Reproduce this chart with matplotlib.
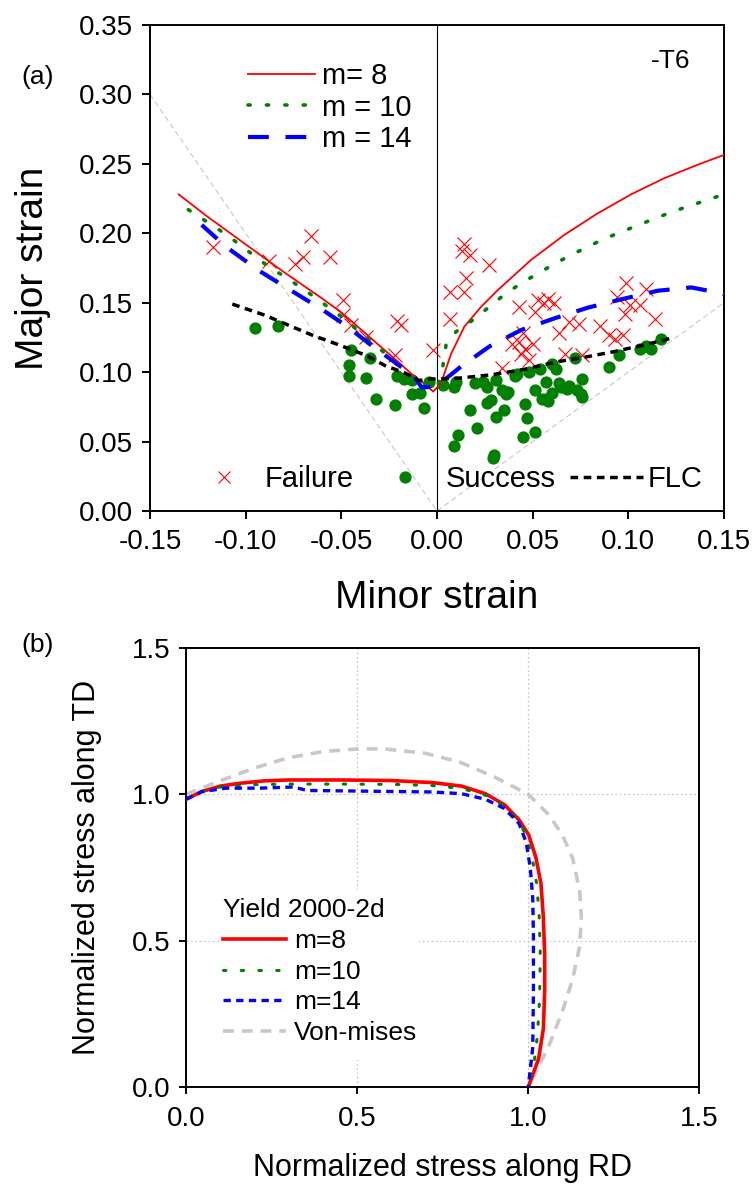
import matplotlib
matplotlib.use("Agg")
import matplotlib.pyplot as plt
from matplotlib.lines import Line2D
from matplotlib.patches import Rectangle

plt.rcParams['font.family'] = ['Liberation Sans', 'DejaVu Sans']

# ---- panel (a): forming limit data ----
m8_x = [-0.135, -0.12, -0.10, -0.08, -0.06, -0.05, -0.04, -0.03, -0.02, -0.012, -0.006, -0.002,
        0.0021, 0.0073, 0.0143, 0.023, 0.0317, 0.0491, 0.0665, 0.084, 0.1014, 0.1188,
        0.1363, 0.1484, 0.15]
m8_y = [0.228, 0.212, 0.192, 0.172, 0.153, 0.143, 0.131, 0.119, 0.107, 0.097, 0.091, 0.086,
        0.092, 0.113, 0.1328, 0.147, 0.159, 0.1808, 0.1988, 0.2144, 0.228, 0.2397,
        0.2494, 0.2556, 0.2565]

m10_x = [-0.13, -0.11, -0.09, -0.07, -0.05, -0.03, -0.015, -0.005, 0.0,
         0.003, 0.0047, 0.0099, 0.0187, 0.0273, 0.036, 0.0448, 0.0544, 0.064, 0.0735,
         0.0831, 0.0935, 0.104, 0.1145, 0.124, 0.1345, 0.1449, 0.15]
m10_y = [0.217, 0.199, 0.178, 0.160, 0.140, 0.117, 0.098, 0.090, 0.088,
         0.104, 0.1196, 0.1291, 0.1375, 0.147, 0.1567, 0.1647, 0.1724, 0.180, 0.1867,
         0.1932, 0.1995, 0.2052, 0.211, 0.216, 0.2209, 0.2257, 0.228]

m14_x = [-0.123, -0.11, -0.093, -0.073, -0.06, -0.047, -0.035, -0.027, -0.018, -0.012, -0.008,
         -0.0005, 0.0125, 0.0273, 0.0439, 0.0613, 0.0788, 0.0962, 0.1153, 0.1328, 0.1476, 0.15]
m14_y = [0.206, 0.190, 0.173, 0.156, 0.145, 0.133, 0.120, 0.112, 0.103, 0.097, 0.089,
         0.0895, 0.104, 0.1184, 0.1303, 0.1387, 0.1464, 0.1524, 0.1586, 0.161, 0.1571, 0.156]

flc_x = [-0.107, -0.09, -0.078, -0.065, -0.052, -0.037, -0.027, -0.017, -0.0096, -0.0026,
         0.0108, 0.0282, 0.0456, 0.063, 0.077, 0.0927, 0.1084, 0.1223]
flc_y = [0.149, 0.141, 0.134, 0.1265, 0.120, 0.112, 0.1046, 0.0995, 0.094, 0.095,
         0.0956, 0.098, 0.102, 0.1075, 0.1107, 0.1148, 0.1196, 0.1244]

fail_x = [-0.117, -0.088, -0.074, -0.070, -0.066, -0.056, -0.049, -0.049, -0.045, -0.037,
          -0.021, -0.019, -0.022, -0.002,
          0.014, 0.013, 0.017, 0.027, 0.015, 0.007, 0.014, 0.007, 0.034,
          0.043, 0.051, 0.053, 0.056, 0.058, 0.061, 0.064, 0.067, 0.069, 0.074, 0.076,
          0.085, 0.090, 0.093, 0.094, 0.099, 0.098, 0.101, 0.106, 0.109, 0.114, 0.097,
          0.039, 0.043, 0.046, 0.050, 0.044, 0.048, 0.045]
fail_y = [0.190, 0.180, 0.178, 0.183, 0.198, 0.183, 0.152, 0.141, 0.134, 0.125,
          0.137, 0.134, 0.112, 0.116,
          0.192, 0.187, 0.184, 0.177, 0.168, 0.158, 0.158, 0.138, 0.103,
          0.147, 0.143, 0.152, 0.150, 0.153, 0.150, 0.128, 0.113, 0.136, 0.135, 0.112,
          0.133, 0.127, 0.124, 0.154, 0.164, 0.142, 0.148, 0.148, 0.160, 0.138, 0.127,
          0.120, 0.122, 0.117, 0.120, 0.113, 0.109, 0.128]

succ_x = [-0.095, -0.083, -0.045, -0.046, -0.046, -0.037, -0.035, -0.032, -0.022, -0.021,
          -0.017, -0.013, -0.013, -0.009, -0.007, -0.004, 0.003, 0.009,
          0.017, 0.021, 0.011, 0.009, 0.030, 0.029, 0.026, 0.028, 0.035, 0.031, 0.034, 0.037,
          0.046, 0.047, 0.045, 0.051, 0.051, 0.055, 0.058, 0.057, 0.064, 0.069, 0.073, 0.075,
          0.076, 0.072, 0.060, 0.054, 0.048, 0.042, 0.024, 0.031, 0.010, 0.090, 0.095, 0.106,
          0.109, 0.117, 0.076, 0.062, 0.020, 0.026, 0.036, 0.041, 0.065, 0.068, 0.060, 0.057,
          0.112]
succ_y = [0.132, 0.133, 0.116, 0.105, 0.097, 0.096, 0.110, 0.081, 0.076, 0.097,
          0.095, 0.094, 0.084, 0.085, 0.074, 0.093, 0.091, 0.089,
          0.073, 0.060, 0.055, 0.047, 0.040, 0.038, 0.078, 0.080, 0.073, 0.068, 0.087, 0.086,
          0.077, 0.067, 0.053, 0.057, 0.087, 0.081, 0.079, 0.093, 0.092, 0.090, 0.087, 0.084,
          0.082, 0.110, 0.106, 0.102, 0.100, 0.099, 0.093, 0.094, 0.093, 0.104, 0.112, 0.117,
          0.119, 0.124, 0.095, 0.102, 0.092, 0.089, 0.084, 0.097, 0.089, 0.088, 0.085, 0.081,
          0.117]

# ---- panel (b): yield loci ----
vm_x = [0.0, 0.1, 0.2, 0.3, 0.4, 0.5, 0.58, 0.7, 0.8, 0.9, 1.0, 1.06, 1.1, 1.13, 1.15,
        1.155, 1.15, 1.13, 1.1, 1.06, 1.0]
vm_y = [1.0, 1.046, 1.09, 1.125, 1.146, 1.155, 1.155, 1.14, 1.11, 1.06, 1.0, 0.93, 0.86,
        0.78, 0.67, 0.58, 0.48, 0.37, 0.26, 0.14, 0.0]

y8_x = [0.0, 0.046, 0.1, 0.16, 0.23, 0.3, 0.45, 0.6, 0.72, 0.805, 0.875, 0.931, 0.973,
        1.001, 1.022, 1.037, 1.044, 1.048, 1.048, 1.044, 1.03, 1.0]
y8_y = [0.983, 1.009, 1.028, 1.038, 1.046, 1.049, 1.049, 1.047, 1.04, 1.028, 1.002, 0.964,
        0.913, 0.862, 0.785, 0.696, 0.581, 0.45, 0.33, 0.198, 0.096, 0.0]

y10_x = [0.0, 0.046, 0.1, 0.2, 0.3, 0.45, 0.6, 0.72, 0.805, 0.875, 0.931, 0.973, 0.995,
         1.012, 1.025, 1.032, 1.035, 1.033, 1.027, 1.018, 1.0]
y10_y = [0.985, 1.01, 1.025, 1.033, 1.035, 1.035, 1.034, 1.03, 1.02, 0.997, 0.96, 0.908,
         0.855, 0.78, 0.69, 0.58, 0.45, 0.3, 0.18, 0.09, 0.0]

y14_x = [0.0, 0.046, 0.117, 0.215, 0.313, 0.355, 0.44, 0.58, 0.72, 0.805, 0.875, 0.931,
         0.973, 0.994, 1.006, 1.013, 1.015, 1.015, 1.013, 1.0]
y14_y = [0.983, 1.009, 1.021, 1.021, 1.025, 1.013, 1.012, 1.01, 1.008, 1.002, 0.983, 0.951,
         0.9, 0.836, 0.747, 0.645, 0.517, 0.326, 0.134, 0.0]

fig = plt.figure(figsize=(7.52, 11.85), dpi=100)

# ================= panel (a) =================
ax1 = fig.add_axes([0.1995, 0.5688, 0.7633, 0.4101])
ax1.plot([-0.15, 0.0], [0.30, 0.0], color='#c8c8c8', lw=0.8, ls=(0, (5, 3)), zorder=1)
ax1.plot([0.0, 0.15], [0.0, 0.15], color='#c8c8c8', lw=0.8, ls=(0, (5, 3)), zorder=1)
ax1.axvline(0, color='black', lw=0.8, zorder=1)

ax1.plot(fail_x, fail_y, ls='none', marker='x', ms=10, mew=0.8, color='red', zorder=2)
ax1.plot(succ_x, succ_y, ls='none', marker='o', ms=7.8, color='green', mec='green', zorder=3)

l8, = ax1.plot(m8_x, m8_y, color='red', lw=1.3, zorder=4, label='m= 8')
l10, = ax1.plot(m10_x, m10_y, color='green', lw=2.6, ls=(0, (0.6, 4.5)),
                dash_capstyle='round', zorder=5, label='m = 10')
l14, = ax1.plot(m14_x, m14_y, color='blue', lw=3, ls=(0, (5, 4)), zorder=6, label='m = 14')
lflc, = ax1.plot(flc_x, flc_y, color='black', lw=2.5, ls=(0, (2.2, 1.6)), zorder=7)

ax1.set_xlim(-0.15, 0.15)
ax1.set_ylim(0, 0.35)
ax1.set_xticks([-0.15, -0.10, -0.05, 0.00, 0.05, 0.10, 0.15])
ax1.set_yticks([0.00, 0.05, 0.10, 0.15, 0.20, 0.25, 0.30, 0.35])
ax1.xaxis.set_major_formatter(matplotlib.ticker.FormatStrFormatter('%.2f'))
ax1.yaxis.set_major_formatter(matplotlib.ticker.FormatStrFormatter('%.2f'))
ax1.tick_params(axis='both', direction='out', length=6, width=1.4, labelsize=20)
ax1.tick_params(axis='x', pad=7)
ax1.tick_params(axis='y', pad=6)
for s in ax1.spines.values():
    s.set_linewidth(1.4)
ax1.set_xlabel('Minor strain', fontsize=28, labelpad=18)
ax1.set_ylabel('Major strain', fontsize=28, labelpad=20)

leg1 = ax1.legend(handles=[l8, l10, l14], loc='center left', bbox_to_anchor=(0.17, 0.83),
                  frameon=False, fontsize=21, handlelength=2.3, handletextpad=0.25,
                  labelspacing=0.12, borderpad=0, borderaxespad=0)
ax1.add_artist(leg1)

h_fail = Line2D([], [], ls='none', marker='x', ms=9, mew=0.8, color='red')
h_succ = Line2D([], [], ls='none', marker='o', ms=7.8, color='green')
h_flc = Line2D([], [], color='black', lw=2.5, ls=(0, (2.2, 1.6)))
ax1.legend(handles=[h_fail, h_succ, h_flc], labels=['Failure', 'Success', 'FLC'],
           loc='center left', bbox_to_anchor=(0.065, 0.066), ncol=3, frameon=False,
           fontsize=21, handlelength=2.5, handletextpad=0.15, columnspacing=0.5,
           borderpad=0, borderaxespad=0)

ax1.text(0.122, 0.324, '-T6', fontsize=19, ha='center', va='center')
fig.text(0.05, 0.935, '(a)', fontsize=19, ha='center', va='center')

# ================= panel (b) =================
ax2 = fig.add_axes([0.2473, 0.0827, 0.6828, 0.3705])
ax2.plot(vm_x, vm_y, color='#c8c8c8', lw=2.6, ls=(0, (3, 2.2)), label='Von-mises', zorder=2)
ax2.plot(y8_x, y8_y, color='red', lw=2.6, label='m=8', zorder=3)
ax2.plot(y10_x, y10_y, color='green', lw=2.2, ls=(0, (0.8, 5)), dash_capstyle='round',
         label='m=10', zorder=4)
ax2.plot(y14_x, y14_y, color='blue', lw=2.4, ls=(0, (2.2, 1.6)), label='m=14', zorder=5)

ax2.set_xlim(0, 1.5)
ax2.set_ylim(0, 1.5)
ax2.set_xticks([0.0, 0.5, 1.0, 1.5])
ax2.set_yticks([0.0, 0.5, 1.0, 1.5])
ax2.xaxis.set_major_formatter(matplotlib.ticker.FormatStrFormatter('%.1f'))
ax2.yaxis.set_major_formatter(matplotlib.ticker.FormatStrFormatter('%.1f'))
for v in [0.5, 1.0]:
    ax2.axvline(v, color='#c8c8c8', lw=0.9, ls=(0, (1.5, 2)), zorder=0)
    ax2.axhline(v, color='#c8c8c8', lw=0.9, ls=(0, (1.5, 2)), zorder=0)
ax2.tick_params(axis='both', direction='out', length=5, width=1.4, labelsize=20)
ax2.tick_params(axis='x', pad=9)
ax2.tick_params(axis='y', pad=6)
for s in ax2.spines.values():
    s.set_linewidth(1.4)
ax2.set_xlabel('Normalized stress along RD', fontsize=22, labelpad=15)
ax2.set_ylabel('Normalized stress along TD', fontsize=22, labelpad=22)

# white box behind the legend (hides the grid there)
ax2.add_patch(Rectangle((0.096, 0.092), 0.584, 0.581, transform=ax2.transData,
                        facecolor='white', edgecolor='none', zorder=1))

handles, labels = ax2.get_legend_handles_labels()
order = [1, 2, 3, 0]
leg2 = ax2.legend([handles[i] for i in order], [labels[i] for i in order],
                  title='Yield 2000-2d', loc='upper left', bbox_to_anchor=(0.072, 0.43),
                  fontsize=19, title_fontsize=19, frameon=False, handlelength=2.4,
                  handletextpad=0.3, labelspacing=0.25, borderpad=0, borderaxespad=0)
leg2._legend_box.align = 'left'
leg2._legend_box.sep = 5
fig.text(0.05, 0.456, '(b)', fontsize=19, ha='center', va='center')

fig.savefig('out.png', dpi=100)
